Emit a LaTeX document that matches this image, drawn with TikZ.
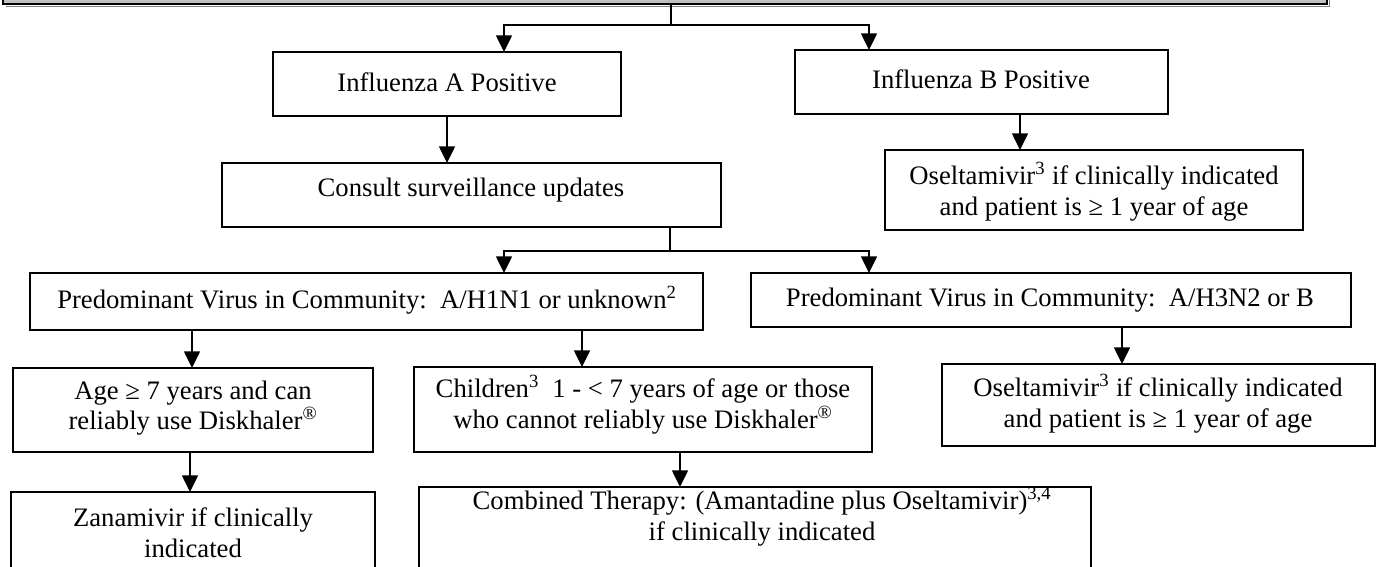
\documentclass[tikz,border=0pt]{standalone}
\usepackage{fontspec}
\setmainfont{Liberation Serif}
\usetikzlibrary{arrows.meta,fit}
\begin{document}
\begin{tikzpicture}[x=0.75pt,y=-0.75pt,
  box/.style={draw, line width=1.5pt, inner sep=0pt},
  txt/.style={inner sep=0pt, align=center, font=\fontsize{20}{23}\selectfont},
  conn/.style={line width=1.1pt},
  arr/.style={line width=1.1pt, -{Triangle[width=12pt,length=12.5pt]}},
]
\useasboundingbox (0,0) rectangle (1379,567);
\clip (0,0) rectangle (1379,567);
% top bar
\draw[line width=1.2pt, gray] (6,6.5) -- (1329.5,6.5) -- (1329.5,-10);
\node[draw, fill={rgb,255:red,192;green,192;blue,192}, line width=1.5pt, inner sep=0pt, fit={(3,-40) (1327,4)}] (bar) {};
% boxes
\node[box, fit={(273,52) (621,116)}] (fluA) {};
\node[txt] (fluAt) at (447,82) {Influenza A Positive};
\node[box, fit={(795,50) (1168,114)}] (fluB) {};
\node[txt] (fluBt) at (981,79) {Influenza B Positive};
\node[box, fit={(885,150) (1303,230)}] (oselB) {};
\node[txt] (oselBt) at (1094,192) {Oseltamivir\textsuperscript{3} if clinically indicated\\and patient is ≥ 1 year of age};
\node[box, fit={(222,163) (721,227)}] (consult) {};
\node[txt] (consultt) at (471,190) {Consult surveillance updates};
\node[box, fit={(30,273) (703,330)}] (h1n1) {};
\node[txt] (h1n1t) at (367,300) {Predominant Virus in Community:\ \ A/H1N1 or unknown\textsuperscript{2}};
\node[box, fit={(751,273) (1351,327)}] (h3n2) {};
\node[txt] (h3n2t) at (1050,300) {Predominant Virus in Community:\ \ A/H3N2 or B};
\node[box, fit={(13,368) (373,452)}] (age) {};
\node[txt] (aget) at (193,408) {Age ≥ 7 years and can\\reliably use Diskhaler\textsuperscript{®}};
\node[box, fit={(414,367) (872,452)}] (child) {};
\node[txt] (childt) at (643,405) {Children\textsuperscript{3}\ \ 1 - \textless{} 7 years of age or those\\who cannot reliably use Diskhaler\textsuperscript{®}};
\node[box, fit={(942,364) (1375,446)}] (osel2) {};
\node[txt] (osel2t) at (1158,404) {Oseltamivir\textsuperscript{3} if clinically indicated\\and patient is ≥ 1 year of age};
\node[box, fit={(11,492) (375,620)}] (zana) {};
\node[txt] (zanat) at (193,533) {Zanamivir if clinically\\indicated};
\node[box, fit={(419,487) (1091,620)}] (comb) {};
\node[txt] (combt) at (762,517) {Combined Therapy: (Amantadine plus Oseltamivir)\textsuperscript{3,4}\\if clinically indicated};
% connector points
\coordinate (j1) at (671,25);
\coordinate (aA) at (504,52);
\coordinate (aB) at (869,50);
\coordinate (cA) at (447,163);
\coordinate (oB) at (1020,150);
\coordinate (j2) at (670,251);
\coordinate (hA) at (504,273);
\coordinate (hB) at (869,273);
\coordinate (ag) at (192,368);
\coordinate (ch) at (582,367);
\coordinate (zn) at (190,492);
\coordinate (cb) at (680,487);
\coordinate (o2) at (1122,364);
% connectors
\draw[conn] (bar.south -| j1) -- (j1);
\draw[arr] (j1) -| (aA);
\draw[arr] (j1) -| (aB);
\draw[arr] (fluA.south -| cA) -- (cA);
\draw[arr] (fluB.south -| oB) -- (oB);
\draw[conn] (consult.south -| j2) -- (j2);
\draw[arr] (j2) -| (hA);
\draw[arr] (j2) -| (hB);
\draw[arr] (h1n1.south -| ag) -- (ag);
\draw[arr] (h1n1.south -| ch) -- (ch);
\draw[arr] (age.south -| zn) -- (zn);
\draw[arr] (child.south -| cb) -- (cb);
\draw[arr] (h3n2.south -| o2) -- (o2);
\end{tikzpicture}
\end{document}
